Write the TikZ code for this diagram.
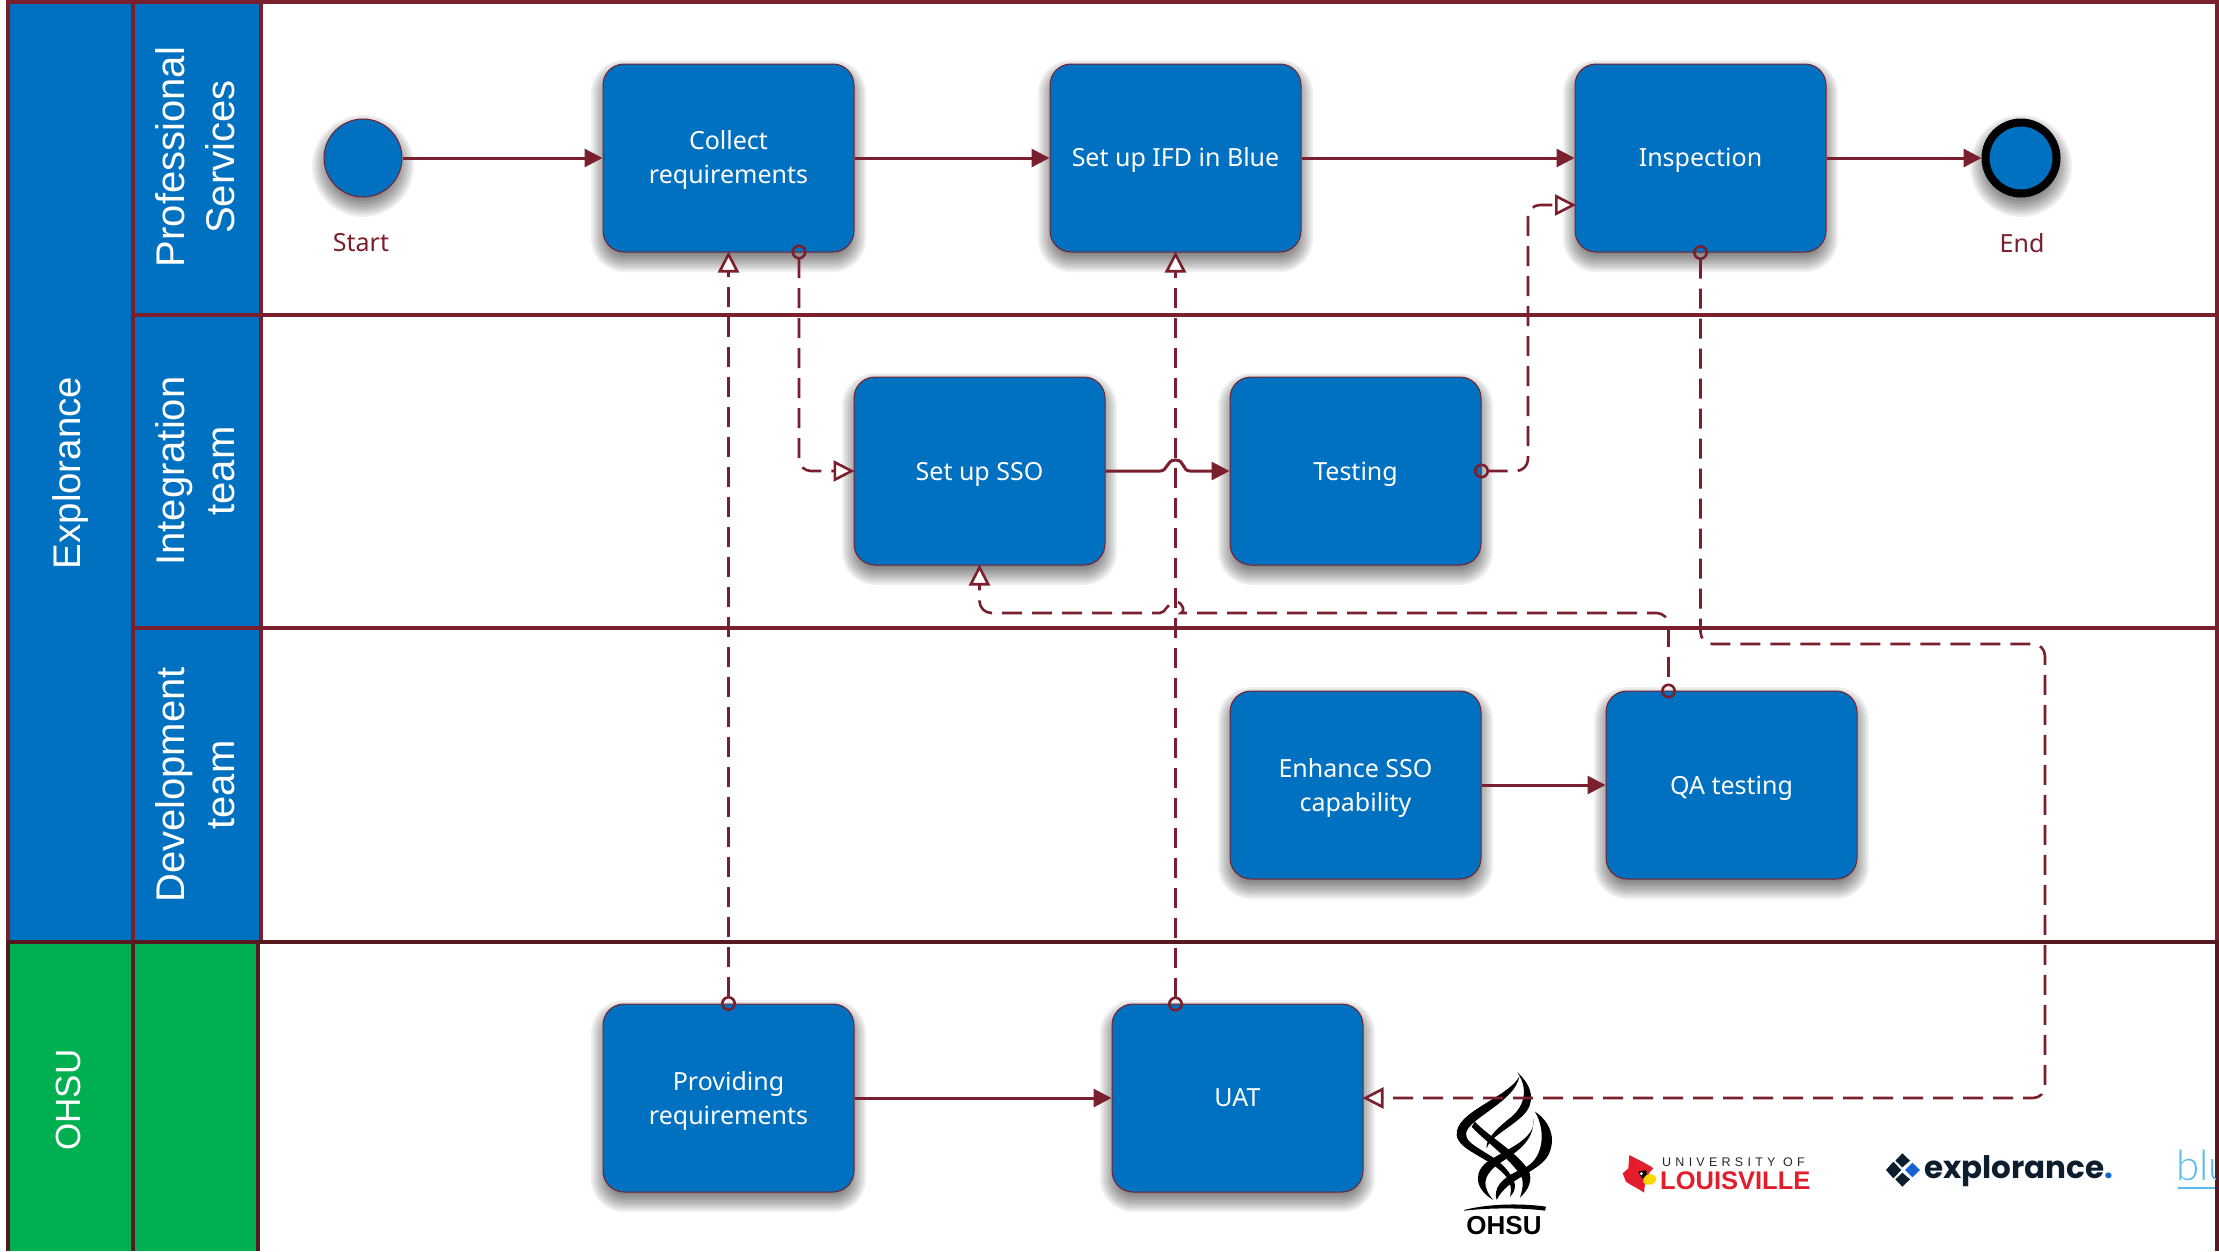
\documentclass[tikz,border=0pt]{standalone}
\usepackage{fontspec}
\usetikzlibrary{arrows.meta,calc}
\setmainfont{Noto Sans}
\newfontfamily\lanefont{Liberation Sans}
\newfontfamily\ulspaced[LetterSpace=34]{Liberation Sans}
\newfontfamily\explfont{Poppins}
\newfontfamily\blufont{Lato Light}
\definecolor{maroon}{HTML}{7A1F2D}
\definecolor{darkmaroon}{HTML}{541A20}
\definecolor{paneblue}{HTML}{0070C0}
\definecolor{panegreen}{HTML}{00B050}
\definecolor{lred}{HTML}{E21D2C}
\definecolor{expldark}{HTML}{0C1E2E}
\definecolor{explblue}{HTML}{1463D2}
\definecolor{blulight}{HTML}{5ABBEA}
\tikzset{
  shadelayer/.style={fill=black,opacity=.06},
  lift/.style={execute at begin node={\rule{0pt}{#1}}},
  taskbox/.style={rectangle,rounded corners=21pt,minimum width=251pt,minimum height=188pt,inner sep=0pt,
    draw=maroon,line width=1pt,fill=paneblue,text=white,align=center,
    font=\fontsize{25}{34}\selectfont},
  boxtext/.style={inner sep=0pt,text=white,align=center,font=\fontsize{25}{34}\selectfont},
  startev/.style={circle,minimum size=78pt,inner sep=0pt,draw=maroon,line width=1pt,fill=paneblue},
  endev/.style={circle,minimum size=71pt,inner sep=0pt,draw=black,line width=8pt,fill=paneblue},
  evlabel/.style={text=maroon,font=\fontsize{25}{34}\selectfont,inner sep=0pt},
  lanelabel/.style={text=white,rotate=90,align=center,inner sep=0pt,font=\lanefont\fontsize{40}{50}\selectfont},
  laneline/.style={draw=maroon,line width=4pt},
  lanelinedark/.style={draw=darkmaroon,line width=4pt},
  flow/.style={draw=maroon,line width=3pt,-{Triangle[length=18pt,width=18pt]}},
  msg/.style={draw=maroon,line width=2.6pt,dash pattern=on 20pt off 10pt,rounded corners=12pt,
    {Circle[open,length=15pt,width=15pt,line width=2.6pt]}-{Triangle[open,length=21pt,width=21pt,fill=white,line width=2.6pt]},
    shorten <=-7.5pt,shorten >=-1pt}
}
% soft shadow of a task box (centre x,y), built from stacked translucent fills
\newcommand{\boxshade}[1]{%
  \begin{scope}[shift={(#1)}]
  \foreach \g in {-8,-6,-4,-2,0,2,4,6,8,10,12}{
    \pgfmathsetmacro{\rr}{max(21+\g,6)}
    \fill[shadelayer,rounded corners=\rr pt] (-125.5-\g,-94+8-\g) rectangle (125.5+\g,94+8+\g);
  }
  \end{scope}}
\newcommand{\circshade}[1]{%
  \begin{scope}[shift={(#1)}]
  \foreach \g in {-8,-6,-4,-2,0,2,4,6,8,10,12}{
    \fill[shadelayer] (0,8) circle[radius=39pt+\g pt];
  }
  \end{scope}}
\begin{document}
\begin{tikzpicture}[x=1pt,y=-1pt]
\useasboundingbox (0,0) rectangle (2219,1251);
\fill[white] (0,0) rectangle (2219,1251);
% lane fills
\fill[paneblue] (8,2) rectangle (133,942);
\fill[paneblue] (133,2) rectangle (261,942);
\fill[panegreen] (8,942) rectangle (133,1251);
\fill[panegreen] (133,942) rectangle (258,1251);
% lane lines
\draw[laneline] (8,0) -- (8,942);
\draw[laneline] (133,0) -- (133,942);
\draw[laneline] (261,0) -- (261,942);
\draw[laneline] (6,2) -- (2217,2);
\draw[laneline] (133,315) -- (2217,315);
\draw[laneline] (133,628) -- (2217,628);
\draw[laneline] (2217,0) -- (2217,942);
\draw[lanelinedark] (6,942) -- (2219,942);
\draw[lanelinedark] (8,942) -- (8,1251);
\draw[lanelinedark] (133,942) -- (133,1251);
\draw[lanelinedark] (258,942) -- (258,1251);
\draw[lanelinedark] (2217,942) -- (2217,1251);
% lane labels
\node[lanelabel] (lexpl) at (71,473) {\fontsize{38.5}{50}\selectfont Explorance};
\node[lanelabel] (lohsu) at (68,1100) {\fontsize{35}{45}\selectfont OHSU};
\node[lanelabel] (lprof) at (195,157) {Professional\\Services};
\node[lanelabel] (lint) at (195,471) {Integration\\team};
\node[lanelabel] (ldev) at (195,785) {Development\\team};
% OHSU logo
\begin{scope}[shift={(1440,1065)},x=.3333pt,y=-.3333pt]
\fill[black] (238,35) .. controls (200,100) and (45,140) .. (50,210) .. controls (55,255) and (140,275) .. (190,325) .. controls (215,350) and (215,375) .. (210,395) .. controls (235,370) and (225,345) .. (205,320) .. controls (160,260) and (75,245) .. (78,205) .. controls (85,160) and (225,110) .. (238,35) -- cycle;
\fill[black] (232,22) .. controls (275,60) and (290,110) .. (250,150) .. controls (210,190) and (150,215) .. (140,250) .. controls (135,225) and (170,190) .. (215,155) .. controls (255,120) and (265,70) .. (232,22) -- cycle;
\fill[black] (285,140) .. controls (330,170) and (350,220) .. (325,270) .. controls (300,320) and (200,340) .. (170,405) .. controls (160,370) and (180,340) .. (250,310) .. controls (310,285) and (320,200) .. (285,140) -- cycle;
\fill[black] (280,160) .. controls (290,220) and (205,250) .. (150,285) .. controls (100,315) and (100,370) .. (160,405) .. controls (125,365) and (130,335) .. (165,305) .. controls (210,270) and (285,240) .. (280,160) -- cycle;
\fill[black] (105,170) .. controls (140,210) and (230,260) .. (265,315) .. controls (280,345) and (265,375) .. (240,398) .. controls (250,365) and (255,340) .. (230,315) .. controls (190,265) and (120,215) .. (95,185) -- cycle;
\fill[black] (72,435) .. controls (150,415) and (250,415) .. (318,425) -- (315,437) .. controls (250,428) and (150,428) .. (72,437) -- cycle;
\end{scope}
\node[font=\lanefont\bfseries\fontsize{26}{26}\selectfont,inner sep=0pt] (ohsulogo) at (1504,1226) {OHSU};
% Louisville logo
\begin{scope}[shift={(1610,1140)},x=.3333pt,y=-.3333pt]
\fill[lred] (58,45) .. controls (85,60) and (110,70) .. (130,85) -- (118,98) -- (105,130) -- (102,158) .. controls (85,145) and (60,135) .. (48,125) -- (38,100) -- (55,85) -- cycle;
\fill[black] (85,95) -- (108,90) -- (112,116) -- (95,114) -- cycle;
\fill[white] (94,101) circle[radius=5];
\fill[yellow!75!orange] (100,118) .. controls (112,92) and (135,100) .. (140,118) .. controls (135,135) and (110,140) .. (100,128) -- cycle;
\end{scope}
\node[anchor=base west,inner sep=0pt,text=black!85,font=\ulspaced\fontsize{12.5}{12.5}\selectfont] (ullabel) at (1662,1166) {UNIVERSITY OF};
\node[anchor=base west,inner sep=0pt,text=lred,font=\lanefont\bfseries\fontsize{25.5}{25.5}\selectfont] (lville) at (1660,1189) {LOUISVILLE};
% explorance logo
\begin{scope}[shift={(1870,1140)},x=.3333pt,y=-.3333pt]
\fill[expldark] (97,40) -- (120,62) -- (97,82) -- (76,62) -- cycle;
\fill[expldark] (70,65) -- (94,90) -- (70,115) -- (48,90) -- cycle;
\fill[explblue] (127,68) -- (150,90) -- (127,112) -- (105,90) -- cycle;
\fill[expldark] (97,98) -- (120,118) -- (97,140) -- (76,118) -- cycle;
\end{scope}
\node[anchor=base west,inner sep=0pt,font=\explfont\bfseries\fontsize{31}{31}\selectfont] (expltext) at (1924,1178) {\textcolor{expldark}{explorance}\textcolor{explblue}{.}};
% blue logo, cropped by the frame
\begin{scope}
\clip (2170,1140) rectangle (2215,1200);
\node[anchor=base west,inner sep=0pt,text=blulight,font=\blufont\fontsize{42}{42}\selectfont] (blutext) at (2176,1180) {blu};
\draw[blulight,line width=2pt] (2178,1188) -- (2215,1188);
\end{scope}
% shadows
\circshade{363,158}
\circshade{2021,158}
\boxshade{728.5,158}
\boxshade{1175.5,158}
\boxshade{1700.5,158}
\boxshade{979.5,471}
\boxshade{1355.5,471}
\boxshade{1355.5,785}
\boxshade{1731.5,785}
\boxshade{728.5,1098}
\boxshade{1237.5,1098}
% events and tasks
\node[startev] (start) at (363,158) {};
\node[evlabel] (startl) at (361,243) {Start};
\node[taskbox] (collect) at (728.5,158) {};
\node[boxtext] (collecttext) at (728.5,160.2) {Collect\\requirements};
\node[taskbox,lift=23.5pt] (ifd) at (1175.5,158) {Set up IFD in Blue};
\node[taskbox,lift=23pt] (insp) at (1700.5,158) {Inspection};
\node[endev] (endn) at (2021,158) {};
\node[evlabel] (endl) at (2022,243) {End};
\node[taskbox,lift=24.5pt] (sso) at (979.5,471) {Set up SSO};
\node[taskbox,lift=24.5pt] (testing) at (1355.5,471) {Testing};
\node[taskbox] (enh) at (1355.5,785) {};
\node[boxtext] (enhtext) at (1355.5,787.8) {Enhance SSO\\capability};
\node[taskbox,lift=24.5pt] (qa) at (1731.5,785) {QA testing};
\node[taskbox] (prov) at (728.5,1098) {};
\node[boxtext] (provtext) at (728.5,1101) {Providing\\requirements};
\node[taskbox] (uat) at (1237.5,1098) {UAT};
% solid flows
\draw[flow] (start) -- (collect);
\draw[flow] (collect) -- (ifd);
\draw[flow] (ifd) -- (insp);
\draw[flow] (insp) -- (endn);
\draw[flow] (enh) -- (qa);
\draw[flow] (prov) -- (uat);
\coordinate (hopa) at (1160,471);
\coordinate (hopb) at (1190,471);
\draw[flow] (sso.east) -- (hopa) .. controls (1168,471) and (1166,460) .. (1175.5,460) .. controls (1185,460) and (1182,471) .. (hopb) -- (testing.west);
% message flows
\coordinate (uattop) at (1175.5,1004);
\coordinate (collbot) at (799,252);
\coordinate (inspleft) at (1575,205);
\coordinate (vtest) at (1528,471);
\coordinate (qatop) at (1668.5,691);
\coordinate (qacorner) at (1668.5,613);
\coordinate (ssocorner) at (979.5,613);
\coordinate (hopc) at (1193,613);
\coordinate (hopd) at (1160,613);
\coordinate (inspturn) at (2045,644);
\draw[msg] (prov.north) -- (collect.south);
\draw[msg] (uattop) -- (ifd.south);
\draw[msg] (collbot) |- (sso.west);
\draw[msg] (testing.east) -| (vtest |- inspleft) -- (inspleft);
\draw[msg] (insp.south) |- (inspturn) |- (uat.east);
\draw[msg,dash phase=22pt] (qatop) -- (qacorner) -- (hopc) [sharp corners] .. controls (1185,613) and (1184,602) .. (1175.5,602) .. controls (1167,602) and (1166,613) .. (hopd) [rounded corners=12pt] -- (ssocorner) -- (sso.south);
\end{tikzpicture}
\end{document}
